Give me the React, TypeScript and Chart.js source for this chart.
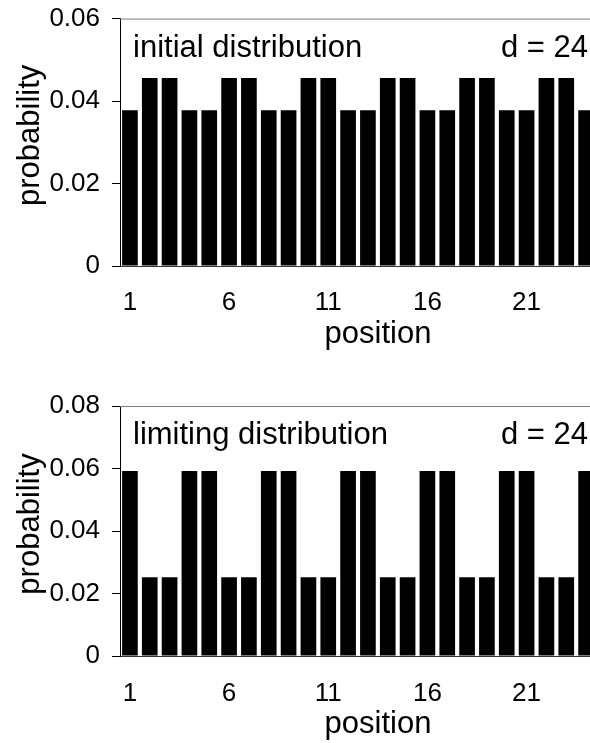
import React, { useEffect, useRef } from "react";
import { Chart, registerables } from "chart.js";

Chart.register(...registerables);

const positions = ["1","2","3","4","5","6","7","8","9","10","11","12","13","14","15","16","17","18","19","20","21","22","23","24"];
const shownTicks = ["1", "6", "11", "16", "21"];

const initialProb = [0.0378, 0.0456, 0.0456, 0.0378, 0.0378, 0.0456, 0.0456, 0.0378, 0.0378, 0.0456, 0.0456, 0.0378, 0.0378, 0.0456, 0.0456, 0.0378, 0.0378, 0.0456, 0.0456, 0.0378, 0.0378, 0.0456, 0.0456, 0.0378];
const limitingProb = [0.0592, 0.0252, 0.0252, 0.0592, 0.0592, 0.0252, 0.0252, 0.0592, 0.0592, 0.0252, 0.0252, 0.0592, 0.0592, 0.0252, 0.0252, 0.0592, 0.0592, 0.0252, 0.0252, 0.0592, 0.0592, 0.0252, 0.0252, 0.0592];

const FONT = "'Liberation Sans', Arial, Helvetica, sans-serif";

type PanelProps = {
  data: number[];
  yMax: number;
  label: string;
  height: number;
  padTop: number;
  xAxisHeight: number;
  tickPad: number;
  marginTop: number;
};

function Panel({ data, yMax, label, height, padTop, xAxisHeight, tickPad, marginTop }: PanelProps) {
  const ref = useRef<HTMLCanvasElement | null>(null);
  useEffect(() => {
    if (!ref.current) return;
    const overlay = {
      id: "overlay",
      afterDraw(chart: any) {
        const { ctx, chartArea } = chart;
        ctx.save();
        // top frame line
        ctx.strokeStyle = "#808080";
        ctx.lineWidth = 1;
        ctx.beginPath();
        ctx.moveTo(chartArea.left, chartArea.top + 0.5);
        ctx.lineTo(chartArea.right, chartArea.top + 0.5);
        ctx.stroke();
        // annotations
        ctx.fillStyle = "#000";
        ctx.font = `31px ${FONT}`;
        ctx.textBaseline = "alphabetic";
        ctx.textAlign = "left";
        ctx.fillText(label, chartArea.left + 13, chartArea.top + 38);
        ctx.textAlign = "right";
        ctx.fillText("d = 24", chartArea.right - 8, chartArea.top + 38);
        // x title
        ctx.textAlign = "center";
        ctx.fillText("position", chartArea.left + 258, chartArea.bottom + 77);
        // y title
        ctx.translate(30, (chartArea.top + chartArea.bottom) / 2 - 7);
        ctx.rotate(-Math.PI / 2);
        ctx.textBaseline = "middle";
        ctx.fillText("probability", 0, 0);
        ctx.restore();
      },
    };
    const chart = new Chart(ref.current, {
      type: "bar",
      data: {
        labels: positions,
        datasets: [
          {
            data,
            backgroundColor: "#000",
            borderWidth: 0,
            barPercentage: 0.79,
            categoryPercentage: 1,
          },
        ],
      },
      options: {
        animation: false,
        responsive: false,
        maintainAspectRatio: false,
        layout: { padding: { top: padTop, right: 4, left: 0, bottom: 0 } },
        plugins: { legend: { display: false }, tooltip: { enabled: false }, title: { display: false } },
        scales: {
          x: {
            type: "category",
            grid: { display: true, drawOnChartArea: false, drawTicks: true, tickLength: tickPad, color: "rgba(0,0,0,0)" },
            border: { display: true, color: "#333", width: 1 },
            ticks: {
              autoSkip: false,
              maxRotation: 0,
              minRotation: 0,
              padding: 0,
              color: "#000",
              font: { family: FONT, size: 26 },
              callback: (_v: any, i: number) => (shownTicks.includes(positions[i]) ? positions[i] : ""),
            },
            afterFit: (s: any) => {
              s.height = xAxisHeight;
            },
          },
          y: {
            min: 0,
            max: yMax,
            grid: { drawOnChartArea: false, drawTicks: true, tickLength: 8, color: "#000" },
            border: { display: true, color: "#000", width: 1 },
            ticks: {
              stepSize: 0.02,
              padding: 12,
              color: "#000",
              font: { family: FONT, size: 26 },
              callback: (v: any) => (Number(v) === 0 ? "0" : Number(v).toFixed(2)),
            },
            title: { display: false },
            afterFit: (s: any) => {
              s.width = 120;
            },
          },
        },
      },
      plugins: [overlay],
    });
    return () => chart.destroy();
  }, [data, yMax, label, height, padTop, xAxisHeight, tickPad]);
  return <canvas ref={ref} width={600} height={height} style={{ display: "block", marginTop }} />;
}

export default function App() {
  return (
    <div
      style={{
        position: "absolute",
        left: 0,
        top: 0,
        width: 590,
        height: 743,
        overflow: "hidden",
        background: "#fff",
      }}
    >
      <Panel data={initialProb} yMax={0.06} label="initial distribution" height={381} padTop={27} xAxisHeight={106} tickPad={21} marginTop={-9} />
      <Panel data={limitingProb} yMax={0.08} label="limiting distribution" height={371} padTop={34} xAxisHeight={87} tickPad={22} marginTop={0} />
    </div>
  );
}
